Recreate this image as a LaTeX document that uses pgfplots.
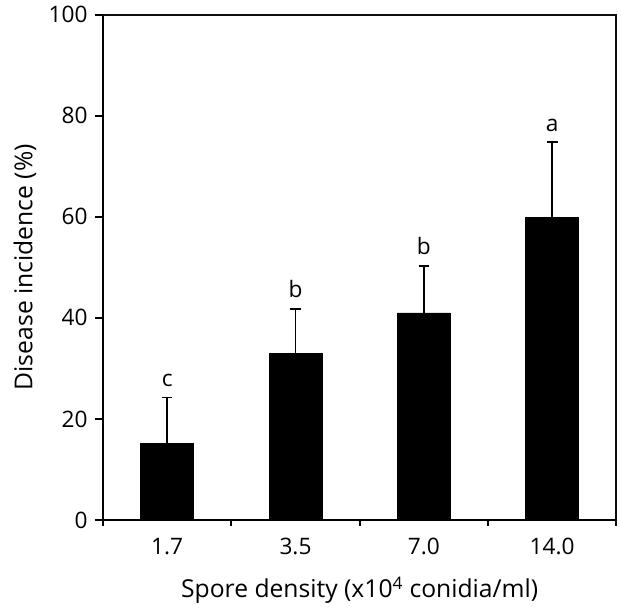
\documentclass[border=0pt]{standalone}
\usepackage{fontspec}
\setmainfont{Open Sans}
\usepackage{pgfplots}
\pgfplotsset{compat=1.18}

\begin{document}
\begin{tikzpicture}
\begin{axis}[
  at={(0,0)}, anchor=south west,
  scale only axis, width=385pt, height=379pt,
  xmin=-0.5, xmax=3.5, ymin=0, ymax=100,
  ytick={0,20,...,100},
  xtick={0,1,2,3}, xticklabels={1.7,3.5,7.0,14.0},
  minor xtick={-0.5,0.5,1.5,2.5,3.5},
  tick pos=left, tick align=outside,
  major tick length=6pt, minor tick length=4.5pt,
  axis line style={line width=1.5pt},
  every tick/.style={line width=1.5pt, black},
  major x tick style={draw=none},
  /pgf/number format/assume math mode=true,
  ticklabel style={font=\fontsize{17}{20}\selectfont},
  xticklabel style={yshift=-4pt},
  yticklabel style={xshift=-2pt},
  xlabel={Spore density (x10\textsuperscript{4} conidia/ml)},
  ylabel={Disease incidence (\%)},
  label style={font=\fontsize{18.5}{22}\selectfont},
  xlabel style={at={(axis description cs:0.5,-0.1385)}, anchor=center},
  ylabel style={at={(axis description cs:-0.152,0.5)}, anchor=center},
  clip=false,
]
\addplot[ybar, bar width=39.75pt, fill=black, draw=black,
  error bars/.cd, y dir=plus, y explicit,
  error bar style={line width=1.1pt, black},
  error mark options={rotate=90, mark size=4pt, line width=1.1pt, black}]
  coordinates {(0,15.2) +- (0,9.0) (1,33.0) +- (0,8.8) (2,41.0) +- (0,9.3) (3,59.9) +- (0,14.9)};
\addplot[draw=none, mark=none, nodes near coords, point meta=explicit symbolic,
  nodes near coords style={font=\fontsize{17}{20}\selectfont, anchor=base, inner sep=0pt, yshift=8.25pt}]
  coordinates {(0,24.2)[c] (1,41.8)[b] (2,50.3)[b] (3,74.8)[a]};
\end{axis}
\draw[line width=1.6pt, black!95] (-0.75pt,378.6pt) -- (384.6pt,378.6pt) -- (384.6pt,-4.5pt);
\path (-77.25pt,-66pt) rectangle (388.5pt,390pt);
\end{tikzpicture}
\end{document}
